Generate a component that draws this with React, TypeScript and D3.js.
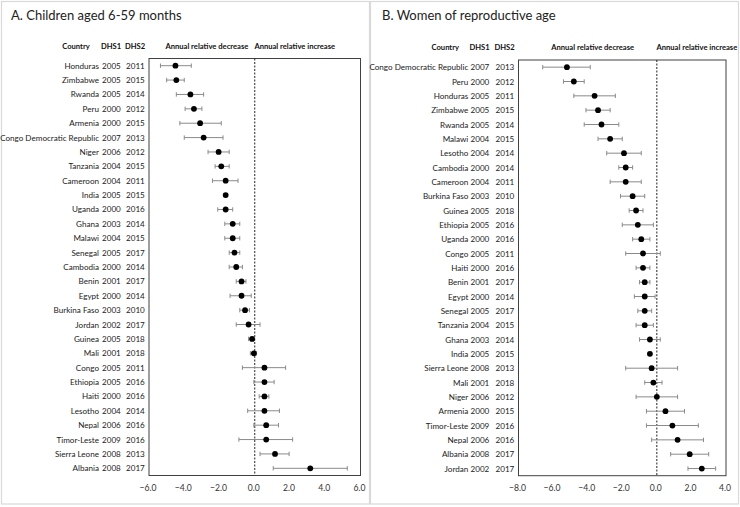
import React from "react";
import * as d3 from "d3";

// ---- Panel A: Children aged 6-59 months ----
const childCountries = ["Honduras", "Zimbabwe", "Rwanda", "Peru", "Armenia", "Congo Democratic Republic", "Niger", "Tanzania", "Cameroon", "India", "Uganda", "Ghana", "Malawi", "Senegal", "Cambodia", "Benin", "Egypt", "Burkina Faso", "Jordan", "Guinea", "Mali", "Congo", "Ethiopia", "Haiti", "Lesotho", "Nepal", "Timor-Leste", "Sierra Leone", "Albania"];
const childDhs1 = ["2005", "2005", "2005", "2000", "2000", "2007", "2006", "2004", "2004", "2005", "2000", "2003", "2004", "2005", "2000", "2001", "2000", "2003", "2002", "2005", "2001", "2005", "2005", "2000", "2004", "2006", "2009", "2008", "2008"];
const childDhs2 = ["2011", "2015", "2014", "2012", "2015", "2013", "2012", "2015", "2011", "2015", "2016", "2014", "2015", "2017", "2014", "2017", "2014", "2010", "2017", "2018", "2018", "2011", "2016", "2016", "2014", "2016", "2016", "2013", "2017"];
const childEst = [-4.5, -4.45, -3.65, -3.45, -3.1, -2.9, -2.05, -1.9, -1.65, -1.65, -1.65, -1.25, -1.25, -1.15, -1.05, -0.75, -0.75, -0.55, -0.35, -0.15, -0.05, 0.55, 0.55, 0.55, 0.55, 0.65, 0.65, 1.15, 3.15];
const childLow = [-5.35, -5.0, -4.45, -3.95, -4.25, -4.0, -2.65, -2.25, -2.4, -1.75, -2.1, -1.7, -1.7, -1.45, -1.45, -1.05, -1.4, -0.85, -1.05, -0.35, -0.25, -0.7, -0.05, 0.25, -0.4, -0.05, -0.9, 0.3, 1.05];
const childHigh = [-3.6, -4.0, -2.9, -3.0, -1.9, -1.8, -1.45, -1.45, -0.95, -1.55, -1.25, -0.85, -0.85, -0.85, -0.7, -0.5, -0.2, -0.3, 0.3, -0.05, 0.1, 1.75, 1.1, 0.8, 1.4, 1.35, 2.15, 1.95, 5.25];
const childTicks = [-6, -4, -2, 0, 2, 4, 6];

// ---- Panel B: Women of reproductive age ----
const womenCountries = ["Congo Democratic Republic", "Peru", "Honduras", "Zimbabwe", "Rwanda", "Malawi", "Lesotho", "Cambodia", "Cameroon", "Burkina Faso", "Guinea", "Ethiopia", "Uganda", "Congo", "Haiti", "Benin", "Egypt", "Senegal", "Tanzania", "Ghana", "India", "Sierra Leone", "Mali", "Niger", "Armenia", "Timor-Leste", "Nepal", "Albania", "Jordan"];
const womenDhs1 = ["2007", "2000", "2005", "2005", "2005", "2004", "2004", "2000", "2004", "2003", "2005", "2005", "2000", "2005", "2000", "2001", "2000", "2005", "2004", "2003", "2005", "2008", "2001", "2006", "2000", "2009", "2006", "2008", "2002"];
const womenDhs2 = ["2013", "2012", "2011", "2015", "2014", "2015", "2014", "2014", "2011", "2010", "2018", "2016", "2016", "2011", "2016", "2017", "2014", "2017", "2015", "2014", "2015", "2013", "2018", "2012", "2015", "2016", "2016", "2017", "2017"];
const womenEst = [-5.2, -4.8, -3.6, -3.4, -3.2, -2.7, -1.9, -1.8, -1.8, -1.4, -1.2, -1.1, -0.9, -0.8, -0.8, -0.7, -0.7, -0.7, -0.7, -0.4, -0.4, -0.3, -0.2, 0.0, 0.5, 0.9, 1.2, 1.9, 2.6];
const womenLow = [-6.6, -5.4, -4.8, -4.1, -4.2, -3.4, -2.9, -2.2, -2.7, -2.1, -1.6, -2.0, -1.4, -1.8, -1.2, -1.0, -1.3, -1.1, -1.2, -1.0, -0.5, -1.8, -0.7, -1.2, -0.6, -0.6, -0.3, 0.8, 1.8];
const womenHigh = [-3.85, -4.2, -2.4, -2.7, -2.2, -2.0, -0.9, -1.4, -0.9, -0.7, -0.8, -0.2, -0.4, 0.2, -0.4, -0.4, -0.1, -0.3, -0.2, 0.2, -0.3, 1.2, 0.3, 1.2, 1.6, 2.4, 2.7, 3.0, 3.4];
const womenTicks = [-8, -6, -4, -2, 0, 2, 4];

const FONT = "Lato, 'Liberation Sans', sans-serif";

type PanelProps = {
  title: string;
  countries: string[];
  dhs1: string[];
  dhs2: string[];
  est: number[];
  low: number[];
  high: number[];
  ticks: number[];
  boxX: number;
  boxW: number;
  plotX0: number;
  plotX1: number;
  plotY0: number;
  plotY1: number;
  countryEnd: number;
  dhs1X: number;
  dhs2X: number;
  headerY: number;
  titleX: number;
};

function Panel(p: PanelProps) {
  const x = d3.scaleLinear().domain([p.ticks[0], p.ticks[p.ticks.length - 1]]).range([p.plotX0, p.plotX1]);
  const y = d3.scaleBand<string>().domain(p.countries).range([p.plotY0, p.plotY1]).padding(0);
  const bw = y.bandwidth();
  const x0 = x(0);
  return (
    <g>
      <rect x={p.boxX} y={1.5} width={p.boxW} height={502.5} fill="#fff" stroke="#d9d9d9" strokeWidth={1.2} />
      <text x={p.titleX} y={20} fontFamily={FONT} fontSize={13} fill="#222">{p.title}</text>
      {/* headers */}
      <g fontFamily={FONT} fontSize={7.6} fontWeight="bold" fill="#111" textAnchor="middle">
        <text x={p.countryEnd - 23} y={p.headerY}>Country</text>
        <text x={p.dhs1X + 9} y={p.headerY}>DHS1</text>
        <text x={p.dhs2X + 9} y={p.headerY}>DHS2</text>
        <text x={(p.plotX0 + x0) / 2 + 5} y={p.headerY}>Annual relative decrease</text>
        <text x={x0 + 40} y={p.headerY}>Annual relative increase</text>
      </g>
      {/* row labels */}
      <g fontFamily={FONT} fontSize={8.1} fill="#222">
        {p.countries.map((c, i) => {
          const cy = (y(c) as number) + bw / 2 + 3;
          return (
            <g key={c}>
              <text x={p.countryEnd} y={cy} textAnchor="end">{c}</text>
              <text x={p.dhs1X} y={cy}>{p.dhs1[i]}</text>
              <text x={p.dhs2X} y={cy}>{p.dhs2[i]}</text>
            </g>
          );
        })}
      </g>
      {/* frame */}
      <rect x={p.plotX0} y={p.plotY0} width={p.plotX1 - p.plotX0} height={p.plotY1 - p.plotY0} fill="none" stroke="#404040" strokeWidth={1} />
      <line x1={x0} x2={x0} y1={p.plotY0} y2={p.plotY1} stroke="#222" strokeWidth={1} strokeDasharray="2,1.5" />
      {/* error bars and points */}
      {p.countries.map((c, i) => {
        const cy = (y(c) as number) + bw / 2;
        const xl = x(p.low[i]);
        const xh = x(p.high[i]);
        return (
          <g key={c}>
            <line x1={xl} x2={xh} y1={cy} y2={cy} stroke="#8a8a8a" strokeWidth={1} />
            <line x1={xl} x2={xl} y1={cy - 2.2} y2={cy + 2.2} stroke="#8a8a8a" strokeWidth={1} />
            <line x1={xh} x2={xh} y1={cy - 2.2} y2={cy + 2.2} stroke="#8a8a8a" strokeWidth={1} />
            <circle cx={x(p.est[i])} cy={cy} r={2.9} fill="#000" />
          </g>
        );
      })}
      {/* x tick labels */}
      <g fontFamily={FONT} fontSize={8.6} fill="#333" textAnchor="middle">
        {p.ticks.map((t) => (
          <text key={t} x={x(t) - 1} y={491}>{d3.format(".1f")(t)}</text>
        ))}
      </g>
    </g>
  );
}

export default function App() {
  return (
    <svg width={740} height={507} style={{ position: "absolute", left: 0, top: 0, background: "#fff" }}>
      <rect x={0} y={0} width={740} height={507} fill="#fff" />
      <Panel
        title="A. Children aged 6-59 months"
        countries={childCountries}
        dhs1={childDhs1}
        dhs2={childDhs2}
        est={childEst}
        low={childLow}
        high={childHigh}
        ticks={childTicks}
        boxX={1.5}
        boxW={368}
        plotX0={149}
        plotX1={360.5}
        plotY0={58.5}
        plotY1={475.5}
        countryEnd={99}
        dhs1X={102}
        dhs2X={126}
        headerY={48.5}
        titleX={11}
      />
      <Panel
        title="B. Women of reproductive age"
        countries={womenCountries}
        dhs1={womenDhs1}
        dhs2={womenDhs2}
        est={womenEst}
        low={womenLow}
        high={womenHigh}
        ticks={womenTicks}
        boxX={370.5}
        boxW={368}
        plotX0={518.5}
        plotX1={726}
        plotY0={60}
        plotY1={475.7}
        countryEnd={468.3}
        dhs1X={470.5}
        dhs2X={495.5}
        headerY={49.5}
        titleX={382}
      />
    </svg>
  );
}
